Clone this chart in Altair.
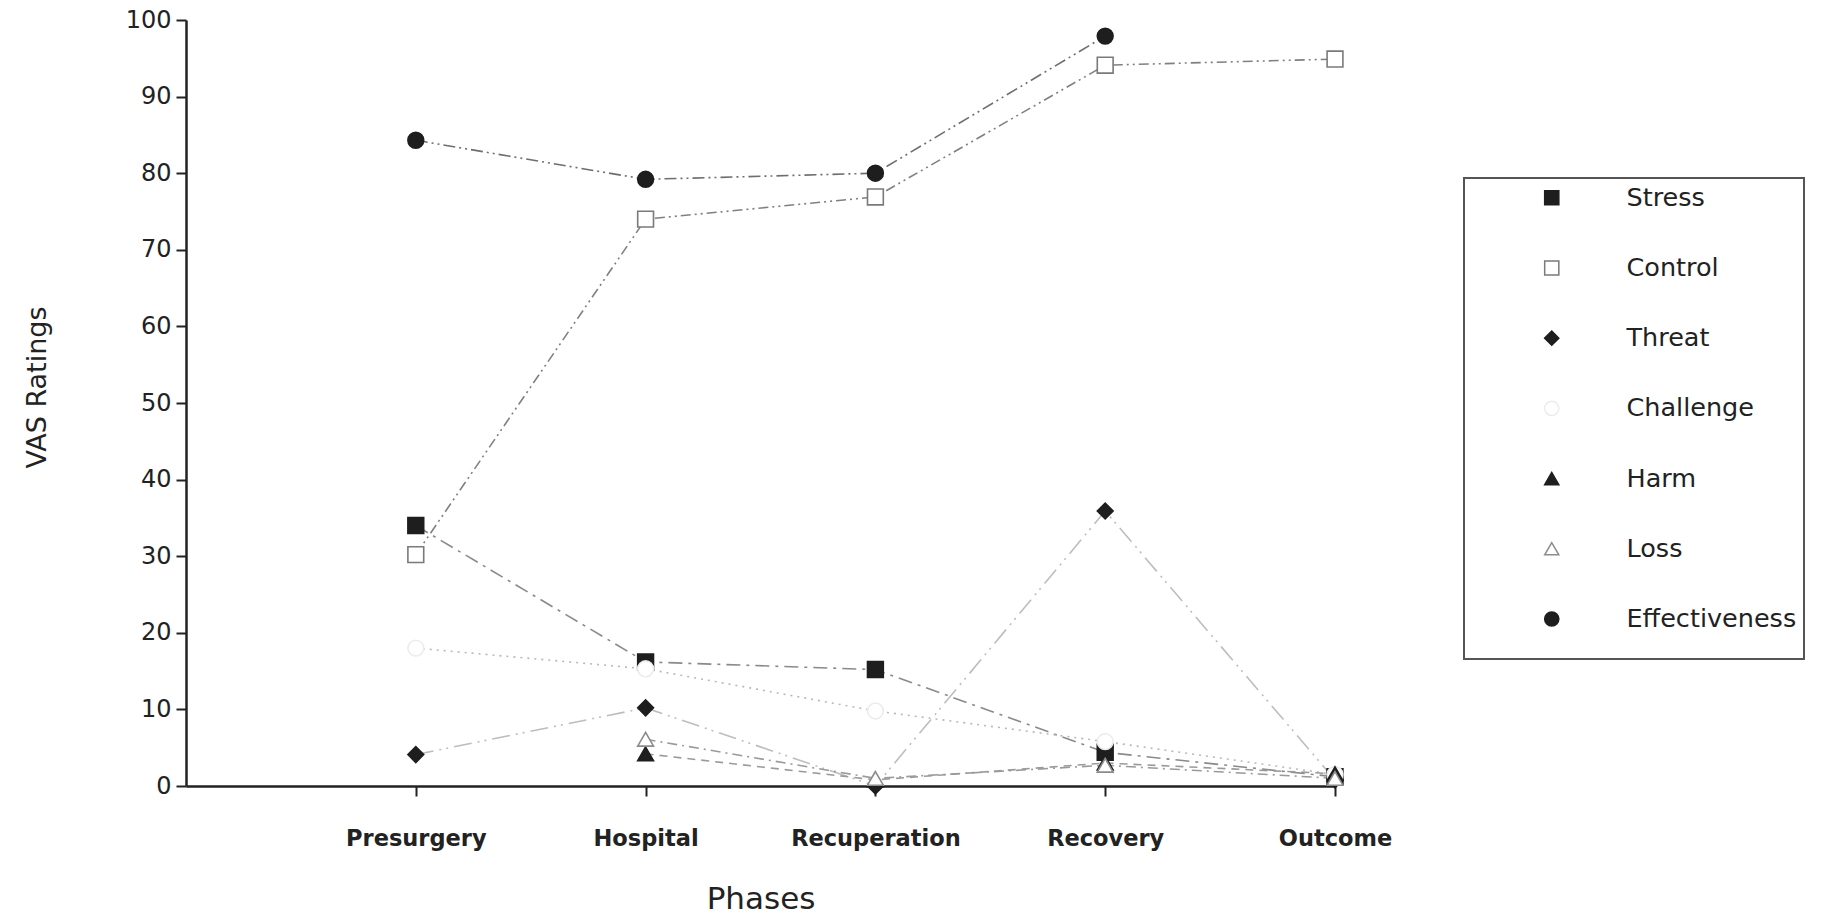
import altair as alt
import pandas as pd

phases = ["Presurgery", "Hospital", "Recuperation", "Recovery", "Outcome"]
series_names = ["Stress", "Control", "Threat", "Challenge", "Harm", "Loss", "Effectiveness"]

stress = [34.0, 16.2, 15.2, 4.4, 1.2]
control = [30.2, 74.0, 76.9, 94.1, 94.9]
threat = [4.1, 10.2, 0.0, 35.9, 0.8]
challenge = [18.0, 15.3, 9.8, 5.8, 1.5]
harm = [None, 4.2, 0.8, 3.0, 1.6]
loss = [None, 6.1, 1.0, 2.7, 1.0]
effectiveness = [84.3, 79.2, 80.0, 97.9, None]

values = [stress, control, threat, challenge, harm, loss, effectiveness]

line_names = ["line " + s for s in series_names]

rows = []
for name, lname, vals in zip(series_names, line_names, values):
    for i, (ph, v) in enumerate(zip(phases, vals)):
        if v is not None:
            rows.append({"series": name, "line_series": lname, "phase": ph, "idx": i + 1, "value": v})
df = pd.DataFrame(rows)

# styles
line_colors = ["#8a8a8a", "#808080", "#bdbdbd", "#b8b8b8", "#9a9a9a", "#9a9a9a", "#6e6e6e"]
line_dashes = [[14, 6, 3, 6], [10, 4, 2, 4, 2, 4], [18, 6, 2, 5, 2, 6], [2, 5],
               [8, 6], [10, 5, 2, 5], [12, 4, 2, 4, 2, 4]]
fills = ["#1e1e1e", "white", "#1e1e1e", "white", "#1e1e1e", "white", "#1e1e1e"]
strokes = ["#1e1e1e", "#7a7a7a", "#1e1e1e", "#ececec", "#1e1e1e", "#8c8c8c", "#1e1e1e"]
shapes = ["square", "square", "diamond", "circle", "triangle-up", "triangle-up", "circle"]

label_expr = "[" + ",".join("'%s'" % p for p in phases) + "][datum.value - 1]"

x_enc = alt.X("idx:Q",
              scale=alt.Scale(domain=[0, len(phases)], nice=False, zero=True),
              axis=alt.Axis(values=list(range(1, len(phases) + 1)), labelExpr=label_expr,
                            labelFlush=False, labelOverlap=False,
                            title="Phases", grid=False, domainColor="#222", domainWidth=2.5,
                            tickColor="#222", tickWidth=2, tickSize=10,
                            labelFont="DejaVu Sans", labelFontWeight="bold", labelFontSize=22.5,
                            labelColor="#222", labelPadding=31,
                            titleFont="DejaVu Sans", titleFontSize=31, titleFontWeight="normal",
                            titleColor="#222", titlePadding=35))
y_enc = alt.Y("value:Q",
              scale=alt.Scale(domain=[0, 100], nice=False),
              axis=alt.Axis(values=list(range(0, 101, 10)), title="VAS Ratings", grid=False,
                            labelFlush=False,
                            domainColor="#222", domainWidth=2.5, tickColor="#222", tickWidth=2,
                            tickSize=10, labelFont="DejaVu Sans", labelFontSize=24,
                            labelColor="#222", labelPadding=5,
                            titleFont="DejaVu Sans", titleFontSize=27, titleFontWeight="normal",
                            titleColor="#222", titlePadding=74, titleY=367))

lines = alt.Chart(df).mark_line(strokeWidth=1.6).encode(
    x=x_enc, y=y_enc,
    color=alt.Color("line_series:N", scale=alt.Scale(domain=line_names, range=line_colors), legend=None),
    strokeDash=alt.StrokeDash("line_series:N", scale=alt.Scale(domain=line_names, range=line_dashes), legend=None),
    order="idx:Q",
)

legend_title = "\u00a0" * 53
points = alt.Chart(df).mark_point(filled=False, size=250, strokeWidth=1.6, opacity=1).encode(
    x=x_enc, y=y_enc,
    shape=alt.Shape("series:N", scale=alt.Scale(domain=series_names, range=shapes), title=legend_title),
    fill=alt.Fill("series:N", scale=alt.Scale(domain=series_names, range=fills), title=legend_title),
    stroke=alt.Stroke("series:N", scale=alt.Scale(domain=series_names, range=strokes), title=legend_title),
)

chart = alt.layer(lines, points).properties(
    width=1149, height=766,
    autosize=alt.AutoSizeParams(type="none"),
    padding={"left": 186, "top": 20, "right": 490, "bottom": 134},
    background="white",
).configure_view(stroke=None).configure_legend(
    orient="none", legendX=1278, legendY=158,
    padding=7, strokeColor="#555555", strokeWidth=2,
    labelFont="DejaVu Sans", labelFontSize=25.5, labelColor="#222",
    titleOrient="bottom", titleFontSize=20, titlePadding=0, titleLimit=600,
    titleFont="DejaVu Sans",
    symbolSize=200, symbolStrokeWidth=1.5, symbolOffset=68, labelOffset=62,
    rowPadding=43.2, labelLimit=400, fillColor="white",
)

chart.save("out.html", embed_options={"renderer": "svg", "actions": False})
